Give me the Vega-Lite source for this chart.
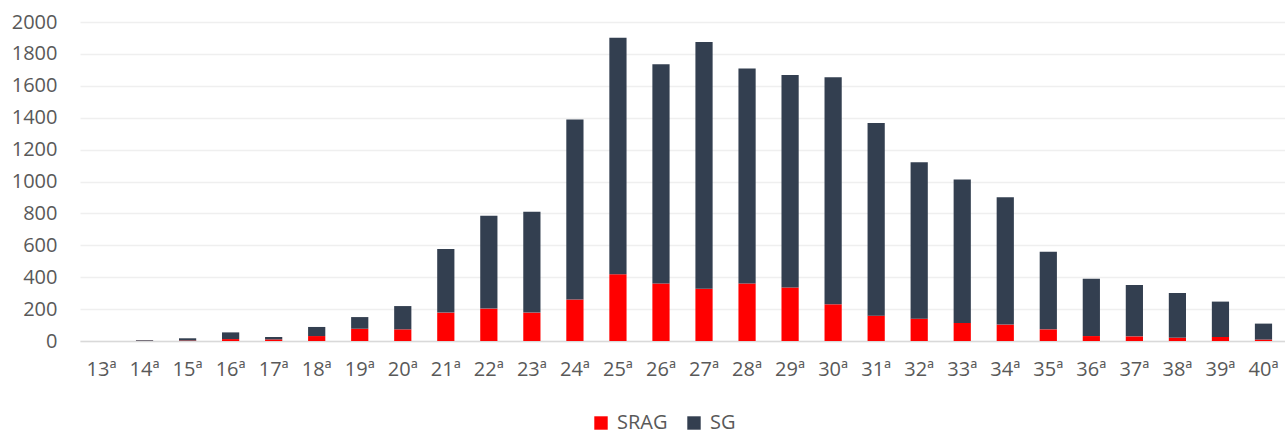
{
  "$schema": "https://vega.github.io/schema/vega-lite/v6.json",
  "autosize": "none",
  "width": 1205,
  "height": 319,
  "padding": {"left": 80, "top": 22, "right": 0, "bottom": 93},
  "background": "#ffffff",
  "config": {
    "view": {"stroke": null},
    "font": "Open Sans",
    "axis": {"labelFont": "Open Sans", "labelFontSize": 20, "labelColor": "#595959"},
    "legend": {"labelFont": "Open Sans", "labelFontSize": 20, "labelColor": "#595959"}
  },
  "data": {
    "values": [
      {"week": "13ª", "series": "SRAG", "value": 0}, {"week": "13ª", "series": "SG", "value": 0},
      {"week": "14ª", "series": "SRAG", "value": 1}, {"week": "14ª", "series": "SG", "value": 4},
      {"week": "15ª", "series": "SRAG", "value": 3}, {"week": "15ª", "series": "SG", "value": 14},
      {"week": "16ª", "series": "SRAG", "value": 12}, {"week": "16ª", "series": "SG", "value": 42},
      {"week": "17ª", "series": "SRAG", "value": 10}, {"week": "17ª", "series": "SG", "value": 15},
      {"week": "18ª", "series": "SRAG", "value": 31}, {"week": "18ª", "series": "SG", "value": 57},
      {"week": "19ª", "series": "SRAG", "value": 77}, {"week": "19ª", "series": "SG", "value": 73},
      {"week": "20ª", "series": "SRAG", "value": 73}, {"week": "20ª", "series": "SG", "value": 146},
      {"week": "21ª", "series": "SRAG", "value": 178}, {"week": "21ª", "series": "SG", "value": 399},
      {"week": "22ª", "series": "SRAG", "value": 203}, {"week": "22ª", "series": "SG", "value": 583},
      {"week": "23ª", "series": "SRAG", "value": 178}, {"week": "23ª", "series": "SG", "value": 633},
      {"week": "24ª", "series": "SRAG", "value": 260}, {"week": "24ª", "series": "SG", "value": 1128},
      {"week": "25ª", "series": "SRAG", "value": 418}, {"week": "25ª", "series": "SG", "value": 1484},
      {"week": "26ª", "series": "SRAG", "value": 360}, {"week": "26ª", "series": "SG", "value": 1375},
      {"week": "27ª", "series": "SRAG", "value": 328}, {"week": "27ª", "series": "SG", "value": 1547},
      {"week": "28ª", "series": "SRAG", "value": 360}, {"week": "28ª", "series": "SG", "value": 1348},
      {"week": "29ª", "series": "SRAG", "value": 335}, {"week": "29ª", "series": "SG", "value": 1333},
      {"week": "30ª", "series": "SRAG", "value": 230}, {"week": "30ª", "series": "SG", "value": 1423},
      {"week": "31ª", "series": "SRAG", "value": 159}, {"week": "31ª", "series": "SG", "value": 1208},
      {"week": "32ª", "series": "SRAG", "value": 140}, {"week": "32ª", "series": "SG", "value": 980},
      {"week": "33ª", "series": "SRAG", "value": 113}, {"week": "33ª", "series": "SG", "value": 899},
      {"week": "34ª", "series": "SRAG", "value": 103}, {"week": "34ª", "series": "SG", "value": 798},
      {"week": "35ª", "series": "SRAG", "value": 73}, {"week": "35ª", "series": "SG", "value": 487},
      {"week": "36ª", "series": "SRAG", "value": 31}, {"week": "36ª", "series": "SG", "value": 360},
      {"week": "37ª", "series": "SRAG", "value": 29}, {"week": "37ª", "series": "SG", "value": 322},
      {"week": "38ª", "series": "SRAG", "value": 21}, {"week": "38ª", "series": "SG", "value": 280},
      {"week": "39ª", "series": "SRAG", "value": 25}, {"week": "39ª", "series": "SG", "value": 222},
      {"week": "40ª", "series": "SRAG", "value": 9}, {"week": "40ª", "series": "SG", "value": 100}
    ]
  },
  "mark": {"type": "bar"},
  "encoding": {
    "x": {
      "field": "week", "type": "nominal", "sort": null,
      "scale": {"paddingInner": 0.6, "paddingOuter": 0.3},
      "axis": {"title": null, "labelAngle": 0, "ticks": false, "domain": true, "domainColor": "#d9d9d9", "domainWidth": 1.5, "labelPadding": 18, "grid": false}
    },
    "y": {
      "field": "value", "type": "quantitative", "stack": "zero",
      "scale": {"domain": [0, 2000], "nice": false},
      "axis": {"title": null, "format": "d", "values": [0, 200, 400, 600, 800, 1000, 1200, 1400, 1600, 1800, 2000], "ticks": false, "domain": false, "grid": true, "gridColor": "#efefef", "gridWidth": 1.3, "labelPadding": 23}
    },
    "color": {
      "field": "series", "type": "nominal",
      "scale": {"domain": ["SRAG", "SG"], "range": ["#ff0000", "#333f50"]},
      "legend": {"title": null, "orient": "none", "direction": "horizontal", "legendX": 511, "legendY": 391, "symbolType": "square", "symbolSize": 180, "symbolStrokeWidth": 0, "labelOffset": 6, "columnPadding": 16}
    },
    "order": {"field": "series", "sort": "descending"}
  }
}
